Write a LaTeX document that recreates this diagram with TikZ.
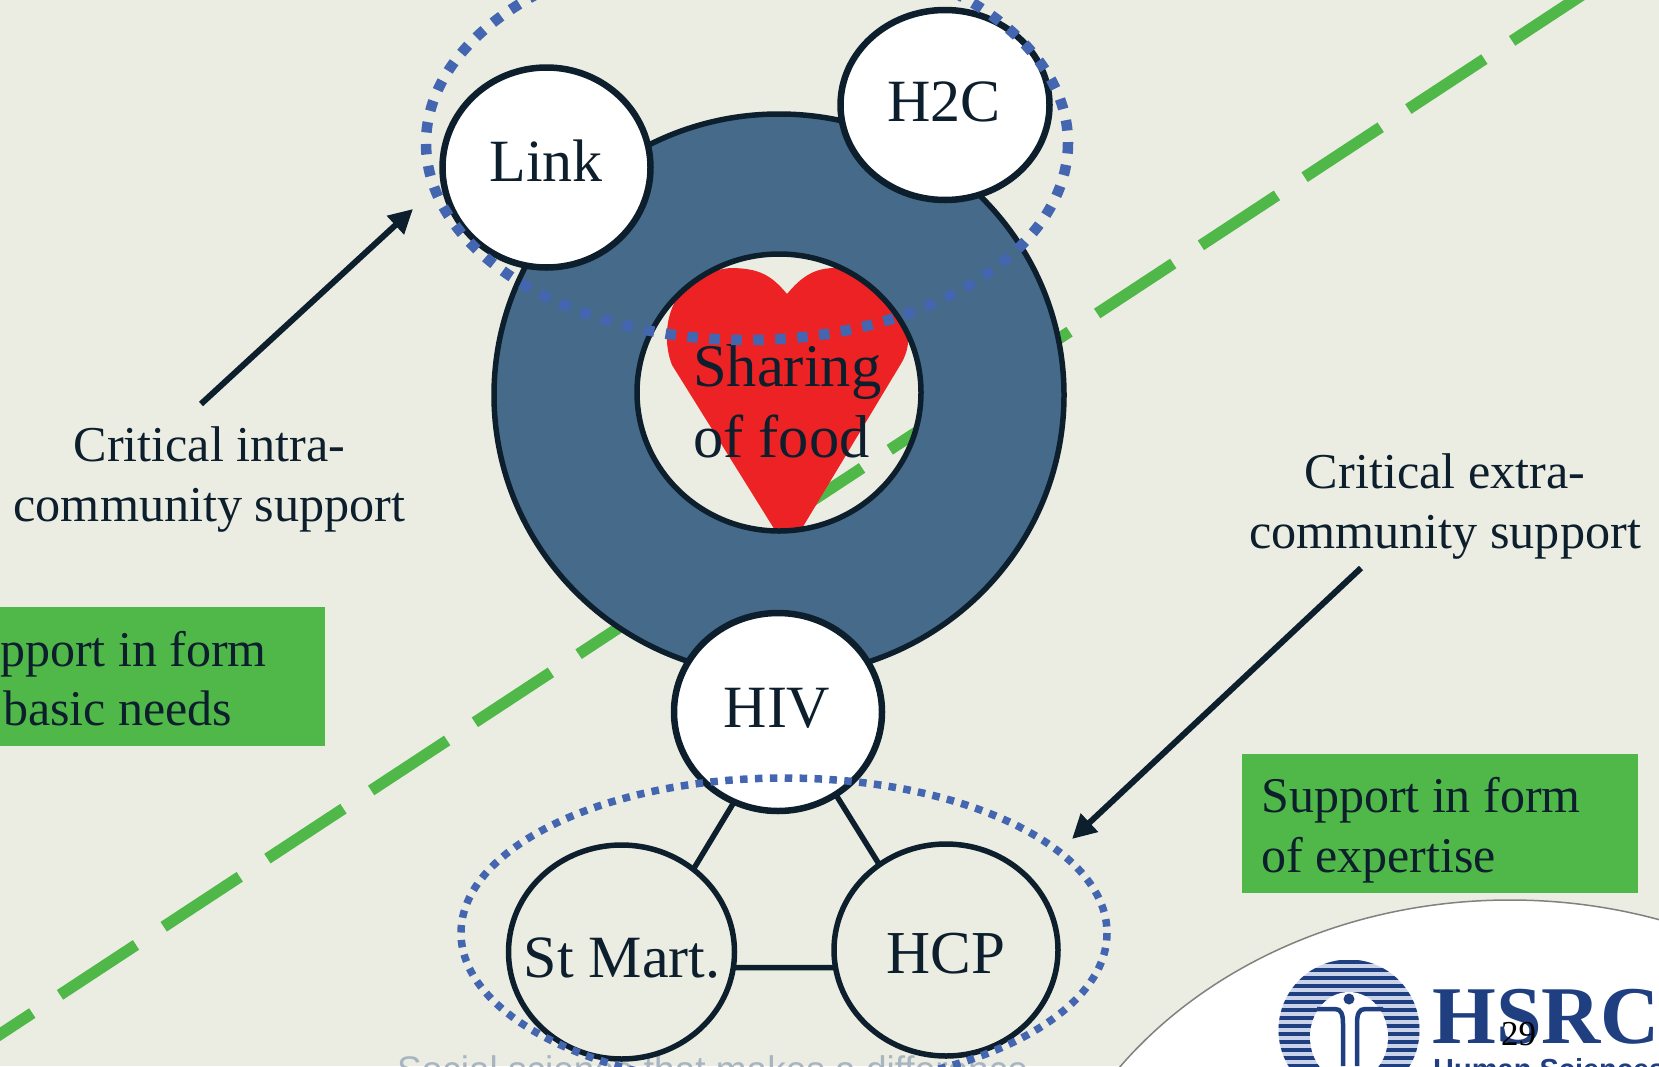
\documentclass[tikz,border=0pt]{standalone}
\usepackage{fontspec}
\setmainfont{Liberation Serif}
\setsansfont{Liberation Sans}
\usetikzlibrary{shapes.geometric,arrows.meta}
\definecolor{bgc}{HTML}{EBEDE3}
\definecolor{ink}{HTML}{0D1F2D}
\definecolor{ringc}{HTML}{466B8A}
\definecolor{dotc}{HTML}{4466B0}
\definecolor{greenc}{HTML}{50B848}
\definecolor{heartc}{HTML}{ED2224}
\definecolor{navy}{HTML}{1F3F80}
\definecolor{tagc}{HTML}{A8B4C0}
\definecolor{paleb}{HTML}{C9D4EA}
\tikzset{
  member/.style={ellipse,draw=ink,line width=6.5pt,fill=white,inner sep=0pt,outer sep=0pt,text=ink,font=\fontsize{60}{70}\selectfont},
  outsider/.style={member,fill=none,line width=5.5pt},
  caption/.style={text=ink,align=center,inner sep=0pt,font=\fontsize{50.2}{60}\selectfont},
  boxtext/.style={text=ink,inner sep=0pt,anchor=base west,font=\fontsize{50}{60}\selectfont},
  linkline/.style={draw=ink,line width=5.5pt},
  pointer/.style={draw=ink,line width=6pt,-{Triangle[length=24pt,width=24pt]}},
  bigdots/.style={draw=dotc,line width=10.5pt,dash pattern=on 10.5pt off 11.5pt},
  smalldots/.style={draw=dotc,line width=7.5pt,dash pattern=on 7.5pt off 7.4pt}
}
\begin{document}
\begin{tikzpicture}[x=1pt,y=-1pt]
\useasboundingbox (0,0) rectangle (1659,1066);
\clip (0,0) rectangle (1659,1066);
\fill[bgc] (0,0) rectangle (1659,1066);
% faded tagline
\node[anchor=base west,inner sep=0pt,text=tagc,font=\sffamily\fontsize{37}{40}\selectfont] (tag) at (397,1082) {Social science that makes a difference};
% logo
\draw[fill=white,draw=black!45!bgc,line width=1.5pt] (1510,1300) ellipse [x radius=480,y radius=400];
\begin{scope}
\clip (1349,1030) circle [radius=70.5];
\fill[paleb] (1278,960) rectangle (1420,1066);
\foreach \yy in {962,970,...,1066}{\draw[navy,line width=4.6pt] (1270,\yy) -- (1430,\yy);}
\fill[white] (1349,1037) ellipse [x radius=39,y radius=45];
\end{scope}
\fill[navy] (1349,999) circle [radius=5.5];
\draw[navy,line width=4.5pt] (1317,1009) -- (1335,1009) .. controls (1341,1009) and (1343,1014) .. (1343,1024) -- (1343,1066);
\draw[navy,line width=4.5pt] (1383,1009) -- (1365,1009) .. controls (1359,1009) and (1357,1014) .. (1357,1024) -- (1357,1066);
\node[anchor=base west,inner sep=0pt,text=navy,font=\bfseries\fontsize{82}{90}\selectfont] (hsrc) at (1432,1043) {HSRC};
\node[anchor=base west,inner sep=0pt,text=navy,font=\sffamily\bfseries\fontsize{29}{30}\selectfont] (hsn) at (1433,1079) {Human Sciences};
\node[anchor=base west,inner sep=0pt,text=black,font=\fontsize{35}{40}\selectfont] (pagenum) at (1501,1045) {29};
% green dashed line
\coordinate (gs) at (-43.75,1063);
\coordinate (ge) at (1620,-30);
\draw[greenc,line width=11.5pt,dash pattern=on 91pt off 33.1pt] (gs) -- (ge);
% heart
\fill[heartc] (730,268) .. controls (760,268) and (772,276) .. (787,294) .. controls (802,276) and (815,268) .. (835,268)
  .. controls (880,275) and (925,320) .. (902,362) -- (798,535) -- (778,535) -- (672,365)
  .. controls (660,335) and (665,275) .. (730,268) -- cycle;
% ring
\path[fill=ringc,even odd rule] (779,395) ellipse [x radius=285,y radius=281] (779,392.5) ellipse [x radius=142,y radius=138.5];
\draw[ink,line width=5.5pt] (779,395) ellipse [x radius=285,y radius=281];
\draw[ink,line width=5.5pt] (779,392.5) ellipse [x radius=142,y radius=138.5];
\node[inner sep=0pt,anchor=base west,text=ink,font=\fontsize{60.5}{72}\selectfont] (sh) at (693,386) {Sharing};
\node[inner sep=0pt,anchor=base west,text=ink,font=\fontsize{60.5}{72}\selectfont] (ff) at (693,457) {of food};
% circles
\node[member,minimum width=208pt,minimum height=200pt] (link) at (546.5,167.5) {};
\node[text=ink,inner sep=0pt,anchor=base,font=\fontsize{60}{70}\selectfont] at (546,181) {Link};
\node[member,minimum width=209pt,minimum height=190pt] (h2c) at (945,105) {};
\node[text=ink,inner sep=0pt,anchor=base,font=\fontsize{60}{70}\selectfont] at (944,121) {H2C};
\node[outsider,minimum width=226pt,minimum height=214pt] (stm) at (621.5,952) {};
\node[text=ink,inner sep=0pt,anchor=base,font=\fontsize{60}{70}\selectfont] at (622,977) {St Mart.};
\node[outsider,minimum width=224pt,minimum height=212pt] (hcp) at (946,950) {};
\node[text=ink,inner sep=0pt,anchor=base,font=\fontsize{61}{70}\selectfont] at (946,973) {HCP};
\node[member,minimum width=208pt,minimum height=198pt] (hiv) at (778,712) {};
\node[text=ink,inner sep=0pt,anchor=base,font=\fontsize{60}{70}\selectfont] at (777,727) {HIV};
\draw[linkline] (hiv.244.6) -- (stm.49.6);
\draw[linkline] (hiv.-55.9) -- (hcp.128);
\draw[linkline] (stm.-8) -- (hcp.189.4);
% dotted groups
\draw[bigdots] (747,143) ellipse [x radius=321,y radius=197];
\draw[smalldots] (784,933) ellipse [x radius=323,y radius=155];
% captions
\node[caption] (cin) at (209.5,479.5) {Critical intra-\\community support};
\node[caption] (cex) at (1445,506) {Critical extra-\\community support};
\coordinate (linkgrp) at (413,209);
\coordinate (hcpgrp) at (1072,839);
\coordinate (cinstart) at (201,404);
\coordinate (cexstart) at (1361,568);
\draw[pointer] (cinstart) -- (linkgrp);
\draw[pointer] (cexstart) -- (hcpgrp);
% green boxes
\fill[greenc] (0,607) rectangle (325,746);
\node[boxtext] (lb1) at (0,666) {pport in form};
\node[boxtext] (lb2) at (3,725) {basic needs};
\fill[greenc] (1242,754) rectangle (1638,893);
\node[boxtext] (rb1) at (1261,812) {Support in form};
\node[boxtext] (rb2) at (1261,872) {of expertise};
\end{tikzpicture}
\end{document}
